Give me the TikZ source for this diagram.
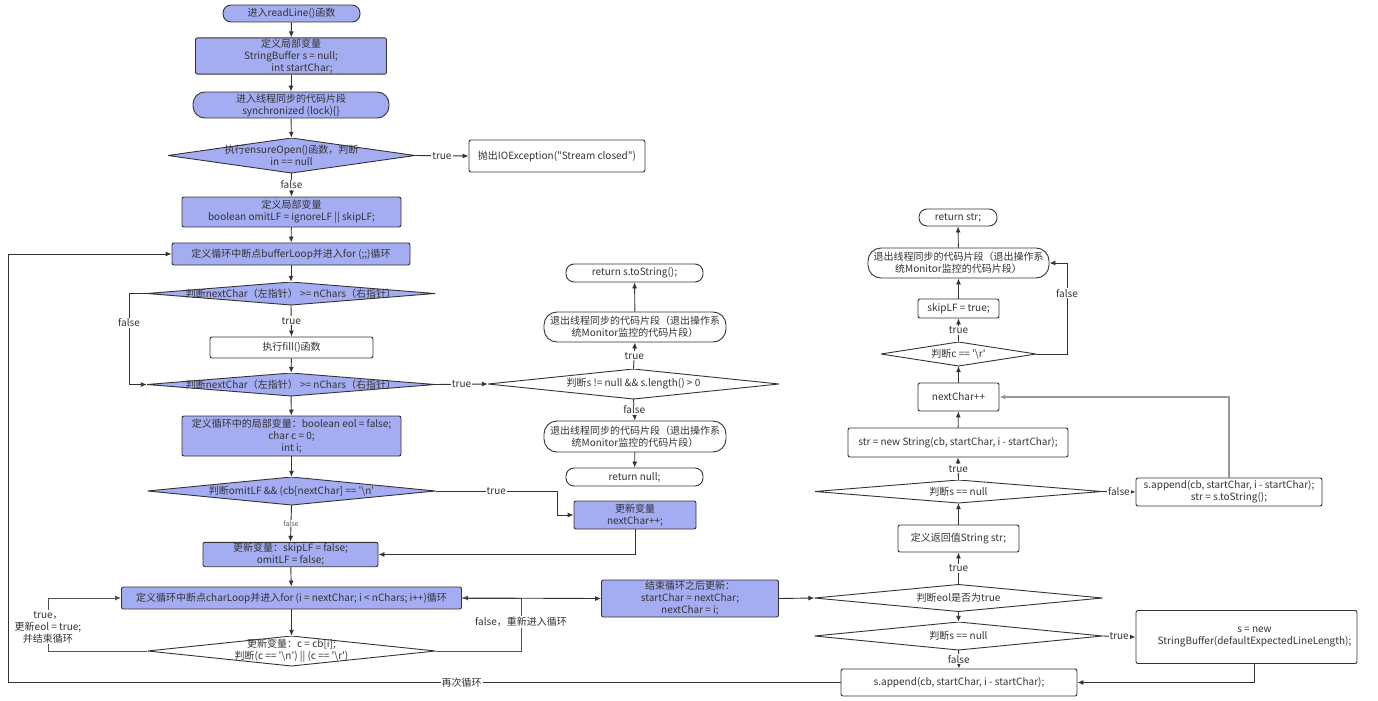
\documentclass[tikz,border=0pt]{standalone}
\usepackage{fontspec}
\setmainfont{Noto Sans CJK SC}[Ligatures=TeXOff]
\usetikzlibrary{arrows.meta}
\definecolor{bl}{HTML}{A4ACF2}
\definecolor{ln}{HTML}{333333}
\definecolor{lg}{HTML}{999999}
\begin{document}
\begin{tikzpicture}[x=1pt,y=-1pt, font=\fontsize{10}{12}\selectfont, text=ln,
 base/.style={rectangle, draw=ln, line width=0.9pt, align=center, inner sep=1pt},
 procb/.style={base, fill=bl, rounded corners=2pt},
 procw/.style={base, fill=white, rounded corners=2pt},
 termb/.style={base, fill=bl, rounded corners=#1},
 termw/.style={base, fill=white, rounded corners=#1},
 diab/.style={rectangle, inner sep=0pt, align=center, fill=white,
   path picture={\filldraw[fill=bl, draw=ln, line width=0.9pt] (path picture bounding box.west) -- (path picture bounding box.north) -- (path picture bounding box.east) -- (path picture bounding box.south) -- cycle;}},
 diaw/.style={rectangle, inner sep=0pt, align=center, fill=white,
   path picture={\filldraw[fill=white, draw=ln, line width=0.9pt] (path picture bounding box.west) -- (path picture bounding box.north) -- (path picture bounding box.east) -- (path picture bounding box.south) -- cycle;}},
 arr/.style={draw=ln, line width=0.9pt, -{Latex[length=6pt,width=5pt]}},
 arrg/.style={draw=lg, line width=1.2pt, -{Latex[length=6pt,width=5pt]}},
 lab/.style={fill=white, inner sep=1pt, text=ln, align=center},
 sm/.style={fill=white, inner sep=1pt, text=ln!80, font=\fontsize{7}{8}\selectfont}
]
\useasboundingbox (0,0) rectangle (1378,701);

% left column
\node[termb=8pt, minimum width=137pt, minimum height=17pt] (start) at (291.5,13.5) {进入readLine()函数};
\node[procb, minimum width=191pt, minimum height=36pt] (vars) at (291,56) {定义局部变量\\StringBuffer s = null;\\\hspace*{22pt}int startChar;};
\node[termb=12pt, minimum width=196pt, minimum height=26pt] (sync) at (291,105) {进入线程同步的代码片段\\synchronized (lock)\{\}};
\node[diab, minimum width=247pt, minimum height=35pt] (d1) at (291.5,155.5) {执行ensureOpen()函数，判断\\in == null};
\node[procw, minimum width=176pt, minimum height=32pt] (exc) at (557,156) {抛出IOException("Stream closed")};
\node[procb, minimum width=219pt, minimum height=30pt] (vars2) at (291.5,212) {定义局部变量\\boolean omitLF = ignoreLF || skipLF;};
\node[procb, minimum width=238pt, minimum height=22pt] (bl) at (291,254) {定义循环中断点bufferLoop并进入for (;;)循环};
\node[diab, minimum width=288pt, minimum height=23pt] (d2) at (291,293.5) {判断nextChar（左指针） >= nChars（右指针）};
\node[procw, minimum width=163pt, minimum height=21pt] (fill) at (291.5,347.5) {执行fill()函数};
\node[diab, minimum width=288pt, minimum height=23pt] (d3) at (291,384.5) {判断nextChar（左指针） >= nChars（右指针）};
\node[procb, minimum width=219pt, minimum height=40pt] (vars3) at (291.5,436) {定义循环中的局部变量：boolean eol = false;\\char c = 0;\\int i;};
\node[diab, minimum width=288pt, minimum height=28pt] (d4) at (291.5,491) {判断omitLF \&\& (cb[nextChar] == '\textbackslash n'};
\node[procb, minimum width=175pt, minimum height=23pt] (vars4) at (290.5,554.5) {更新变量：skipLF = false;\\omitLF = false;};
\node[procb, minimum width=340pt, minimum height=22pt] (cl) at (291.5,598) {定义循环中断点charLoop并进入for (i = nextChar; i < nChars; i++)循环};
\node[diaw, minimum width=288pt, minimum height=30pt] (d5) at (291.5,651) {更新变量：c = cb[i];\\判断(c == '\textbackslash n') || (c == '\textbackslash r')};

% middle column
\node[procb, minimum width=177pt, minimum height=37pt] (endl) at (690,598.5) {结束循环之后更新：\\startChar = nextChar;\\nextChar = i;};
\node[diaw, minimum width=291pt, minimum height=30pt] (dm) at (633.5,384) {判断s != null \&\& s.length() > 0};
\node[termw=13pt, minimum width=182pt, minimum height=30pt] (ex1) at (635,327) {退出线程同步的代码片段（退出操作系\\统Monitor监控的代码片段）};
\node[termw=8pt, minimum width=137pt, minimum height=18pt] (rs) at (634.5,273) {return s.toString();};
\node[termw=13pt, minimum width=182pt, minimum height=31pt] (ex2) at (635,436.5) {退出线程同步的代码片段（退出操作系\\统Monitor监控的代码片段）};
\node[termw=8pt, minimum width=137pt, minimum height=18pt] (rn) at (634.5,477) {return null;};
\node[procb, minimum width=122pt, minimum height=28pt] (nc1) at (635,515) {更新变量\\nextChar++;};

% right column
\node[termw=8pt, minimum width=78pt, minimum height=17pt] (rstr) at (958,217.5) {return str;};
\node[termw=13pt, minimum width=181pt, minimum height=30pt] (ex3) at (958.5,263) {退出线程同步的代码片段（退出操作系\\统Monitor监控的代码片段）};
\node[procw, minimum width=81pt, minimum height=19pt] (skip) at (958.5,308.5) {skipLF = true;};
\node[diaw, minimum width=155pt, minimum height=24pt] (dr) at (958.5,354) {判断c == '\textbackslash r'};
\node[procw, minimum width=81pt, minimum height=28pt] (nc2) at (958.5,397) {nextChar++};
\node[procw, minimum width=220pt, minimum height=29pt] (str) at (958,442.5) {str = new String(cb, startChar, i - startChar);};
\node[diaw, minimum width=287pt, minimum height=23pt] (dn1) at (958.5,491.5) {判断s == null};
\node[procw, minimum width=186pt, minimum height=28pt] (app2) at (1229,492) {s.append(cb, startChar, i - startChar);\\str = s.toString();};
\node[procw, minimum width=121pt, minimum height=27pt] (def) at (958.5,538.5) {定义返回值String str;};
\node[diaw, minimum width=288pt, minimum height=27pt] (de) at (958.5,598) {判断eol是否为true};
\node[diaw, minimum width=288pt, minimum height=28pt] (dn2) at (958.5,636) {判断s == null};
\node[procw, minimum width=221pt, minimum height=53pt] (sb) at (1246.5,637) {\hspace*{16pt}s = new\\\hspace*{16pt}StringBuffer(defaultExpectedLineLength);};
\node[procw, minimum width=236pt, minimum height=27pt] (app) at (959,682.5) {s.append(cb, startChar, i - startChar);};

% connectors left
\draw[arr] (start) -- (vars);
\draw[arr] (vars) -- (sync);
\draw[arr] (sync) -- (d1);
\draw[arr] (d1.east) -- node[lab]{true} (exc.west);
\draw[arr] (d1.south) -- node[lab]{false} (vars2.north);
\draw[arr] (vars2) -- (bl);
\draw[arr] (bl) -- (d2);
\draw[arr] (d2.south) -- node[lab]{true} (fill.north);
\draw[arr] (fill) -- (d3);
\draw[arr] (d2.west) -- (129,293.5) -- node[lab, pos=0.32]{false} (129,384.5) -- (d3.west);
\draw[arr] (d3.east) -- node[lab]{true} (dm.west);
\draw[arr] (d3) -- (vars3);
\draw[arr] (vars3) -- (d4);
\draw[arr] (d4.south) -- node[sm]{false} (vars4.north);
\draw[arr] (d4.east) -- node[lab]{true} (557,491) |- (nc1.west);
\draw[arr] (nc1.south) |- (vars4.east);
\draw[arr] (vars4) -- (cl);
\draw[arr] (cl) -- (d5);
\draw[arr, draw=ln!85] (d5.west) -- (48,651) -- node[lab, pos=0.45]{true，\\更新eol = true;\\并结束循环} (48,598) -- (cl.west);
\draw[arr, draw=ln!85] (d5.east) -- (521,651) -- node[lab, pos=0.55]{false，重新进入循环} (521,598) -- (cl.east);
\draw[arr] (cl.east) -- (endl.west);
\draw[arr] (endl.east) -- (de.west);
\draw[arr] (app.west) -- node[lab, pos=0.455]{再次循环} (8,682.5) |- (bl.west);

% connectors middle
\draw[arr] (dm.north) -- node[lab]{true} (ex1.south);
\draw[arr] (ex1) -- (rs);
\draw[arr] (dm.south) -- node[lab]{false} (ex2.north);
\draw[arr] (ex2) -- (rn);

% connectors right
\draw[arr] (de.north) -- node[lab]{true} (def.south);
\draw[arr] (def.north) -- (dn1.south);
\draw[arr] (dn1.north) -- node[lab]{true} (str.south);
\draw[arr] (dn1.east) -- node[lab]{false} (app2.west);
\draw[arr] (str) -- (nc2);
\draw[arrg] (app2.north) |- (nc2.east);
\draw[arr] (nc2) -- (dr);
\draw[arr] (dr.north) -- node[lab]{true} (skip.south);
\draw[arr] (dr.east) -- (1067,354) -- node[lab, pos=0.67]{false} (1067,263) -- (ex3.east);
\draw[arr] (skip) -- (ex3);
\draw[arr] (ex3) -- (rstr);
\draw[arr] (de.south) -- (dn2.north);
\draw[arr] (dn2.east) -- node[lab]{true} (sb.west);
\draw[arr] (dn2.south) -- node[lab]{false} (app.north);
\draw[arr] ([xshift=8pt]sb.south) |- (app.east);
\end{tikzpicture}
\end{document}
